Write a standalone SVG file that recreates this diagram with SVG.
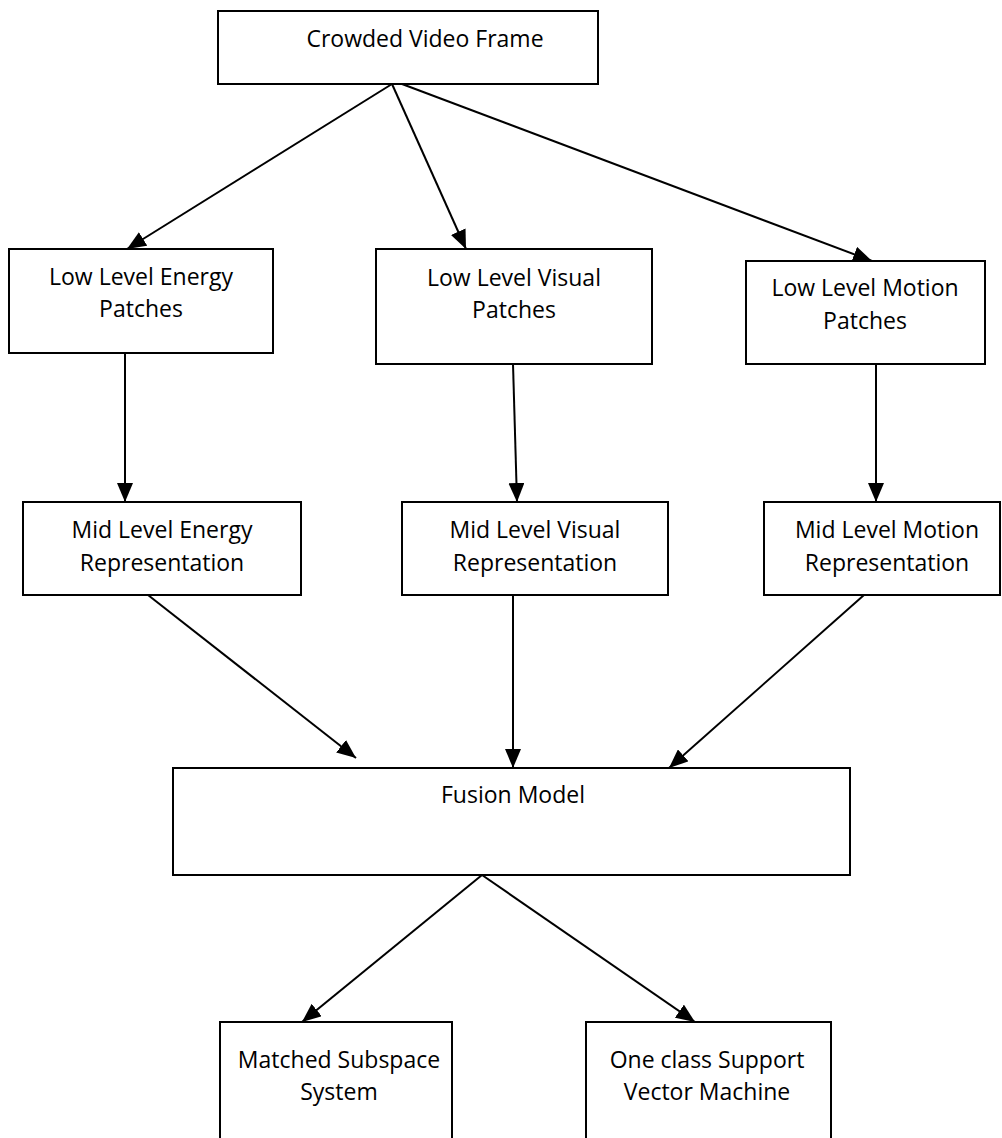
<svg xmlns="http://www.w3.org/2000/svg" width="1002" height="1138" viewBox="0 0 1002 1138">
<style>
.box{fill:#fff;stroke:#000;stroke-width:2}
.t{font-family:"Open Sans","Liberation Sans",sans-serif;font-size:23px;fill:#000;text-anchor:middle}
.c{stroke:#000;stroke-width:2;fill:none;marker-end:url(#ah)}
</style>
<defs>
<marker id="ah" markerUnits="userSpaceOnUse" markerWidth="20" markerHeight="16" refX="19" refY="8" orient="auto">
<path d="M0,0 L19,8 L0,16 Z" fill="#000"/>
</marker>
</defs>
<rect width="1002" height="1138" fill="#fff"/>
<g id="connectors">
<line class="c" x1="392" y1="84" x2="127" y2="249"/>
<line class="c" x1="392" y1="84" x2="466" y2="249"/>
<line class="c" x1="402" y1="84" x2="872" y2="261"/>
<line class="c" x1="125" y1="353" x2="125" y2="502"/>
<line class="c" x1="513" y1="364" x2="517" y2="502"/>
<line class="c" x1="876" y1="364" x2="876" y2="502"/>
<line class="c" x1="148" y1="595" x2="356" y2="758"/>
<line class="c" x1="513" y1="595" x2="513" y2="768"/>
<line class="c" x1="864" y1="595" x2="669" y2="768"/>
<line class="c" x1="482" y1="875" x2="302" y2="1022"/>
<line class="c" x1="482" y1="875" x2="695" y2="1022"/>
</g>
<g id="crowded-video-frame">
<rect class="box" x="218" y="11" width="380" height="73"/>
<text class="t" x="425" y="47">Crowded Video Frame</text>
</g>
<g id="low-energy">
<rect class="box" x="9" y="249" width="264" height="104"/>
<text class="t" x="141" y="285">Low Level Energy</text>
<text class="t" x="141" y="317">Patches</text>
</g>
<g id="low-visual">
<rect class="box" x="376" y="249" width="276" height="115"/>
<text class="t" x="514" y="286">Low Level Visual</text>
<text class="t" x="514" y="318">Patches</text>
</g>
<g id="low-motion">
<rect class="box" x="746" y="261" width="239" height="103"/>
<text class="t" x="865" y="296">Low Level Motion</text>
<text class="t" x="865" y="329">Patches</text>
</g>
<g id="mid-energy">
<rect class="box" x="23" y="502" width="278" height="93"/>
<text class="t" x="162" y="538">Mid Level Energy</text>
<text class="t" x="162" y="571">Representation</text>
</g>
<g id="mid-visual">
<rect class="box" x="402" y="502" width="266" height="93"/>
<text class="t" x="535" y="538">Mid Level Visual</text>
<text class="t" x="535" y="571">Representation</text>
</g>
<g id="mid-motion">
<rect class="box" x="764" y="502" width="236" height="93"/>
<text class="t" x="887" y="538">Mid Level Motion</text>
<text class="t" x="887" y="571">Representation</text>
</g>
<g id="fusion-model">
<rect class="box" x="173" y="768" width="677" height="107"/>
<text class="t" x="513" y="803">Fusion Model</text>
</g>
<g id="matched-subspace">
<rect class="box" x="220" y="1022" width="232" height="130"/>
<text class="t" x="339" y="1068">Matched Subspace</text>
<text class="t" x="339" y="1100">System</text>
</g>
<g id="one-class-svm">
<rect class="box" x="586" y="1022" width="245" height="130"/>
<text class="t" x="707" y="1068">One class Support</text>
<text class="t" x="707" y="1100">Vector Machine</text>
</g>
</svg>
